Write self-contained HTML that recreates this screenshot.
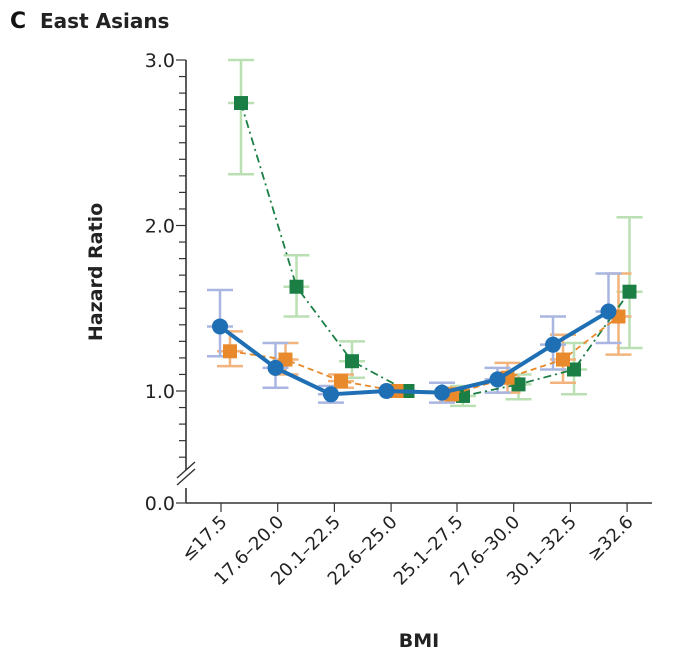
<!DOCTYPE html>
<html><head><meta charset="utf-8">
<style>
body{margin:0;background:#fff;}
svg{display:block;font-family:"DejaVu Sans","Liberation Sans",sans-serif;}
</style></head>
<body>
<svg id="chart" width="700" height="668" viewBox="0 0 700 668">
  <text x="10" y="28" font-size="22" font-weight="bold" fill="#111">C</text>
  <text x="40" y="28" font-size="20" font-weight="bold" fill="#222">East Asians</text>
  <text transform="translate(102,272) rotate(-90)" text-anchor="middle" font-size="19" font-weight="bold" fill="#222">Hazard Ratio</text>
  <text x="419" y="647" text-anchor="middle" font-size="19" font-weight="bold" fill="#222">BMI</text>
  <g id="axes"></g>
  <g id="marks"></g>
</svg>
<script>
const categories = ["≤17.5","17.6–20.0","20.1–22.5","22.6–25.0","25.1–27.5","27.6–30.0","30.1–32.5","≥32.6"];
const yTickLabels = ["0.0","1.0","2.0","3.0"];
const yTickValues = [0,1,2,3];
const blueHR = [1.39,1.14,0.98,1.0,0.99,1.07,1.28,1.48];
const blueLo = [1.21,1.02,0.93,1.0,0.93,0.99,1.13,1.29];
const blueHi = [1.61,1.29,1.03,1.0,1.05,1.14,1.45,1.71];
const orangeHR = [1.24,1.19,1.06,1.0,0.98,1.08,1.19,1.45];
const orangeLo = [1.15,1.10,1.02,1.0,0.94,0.99,1.05,1.22];
const orangeHi = [1.36,1.29,1.10,1.0,1.02,1.17,1.34,1.71];
const greenHR = [2.74,1.63,1.18,1.0,0.97,1.04,1.13,1.60];
const greenLo = [2.31,1.45,1.08,1.0,0.91,0.95,0.98,1.26];
const greenHi = [3.0,1.82,1.30,1.0,1.03,1.10,1.29,2.05];

const NS="http://www.w3.org/2000/svg";
function y(v){ return v<0.55 ? 503-(v/0.55)*30 : 391-(v-1)*165.5; }
function x(i){ return 220+55.5*i; }
function tickX(i){ return i<4 ? 221+56.7*i : 457+56.7*(i-4); }
function mk(tag,attrs,parent){const e=document.createElementNS(NS,tag);for(const k in attrs)e.setAttribute(k,attrs[k]);parent.appendChild(e);return e;}
const axes=document.getElementById('axes'), marks=document.getElementById('marks');
const ax=186, base=503;
let l=mk('line',{x1:ax,y1:60,x2:ax,y2:470,stroke:'#333','stroke-width':1.6},axes);


l=mk('line',{x1:ax,y1:488,x2:ax,y2:base,stroke:'#333','stroke-width':1.6},axes);


for(const dy of [0,7]){
  l=mk('line',{x1:ax-9,y1:484+dy-6,x2:ax+9,y2:468+dy-6,stroke:'#333','stroke-width':1.4},axes);
  
  
}
for(let k=6;k<=30;k++){
  const v=k/10, major=(k%10===0);
  l=mk('line',{x1:ax-(major?10:7),y1:y(v),x2:ax,y2:y(v),stroke:'#333','stroke-width':1.2},axes);
  
  
}
l=mk('line',{x1:ax-10,y1:base,x2:ax,y2:base,stroke:'#333','stroke-width':1.2},axes);


yTickValues.forEach((v,i)=>{
  const t=mk('text',{x:ax-11,y:y(v)+7,'text-anchor':'end','font-size':19,fill:'#222'},axes);
  t.textContent=yTickLabels[i];
  
  
});
l=mk('line',{x1:ax,y1:base,x2:652,y2:base,stroke:'#333','stroke-width':1.6},axes);


categories.forEach((c,i)=>{
  const tx=tickX(i);
  const tk=mk('line',{x1:tx,y1:base,x2:tx,y2:base+9,stroke:'#333','stroke-width':1.2},axes);
  
  
  const t=mk('text',{x:0,y:0,'text-anchor':'end','font-size':18,fill:'#222',transform:`translate(${tx+7},${base+20}) rotate(-45)`},axes);
  t.textContent=c;
  
  
});
const series=[
  {name:'green',hr:greenHR,lo:greenLo,hi:greenHi,off:21,col:'#1b7f45',ci:'#b9dfb3',dash:'8 4 2 4',w:1.8,shape:'sq'},
  {name:'orange',hr:orangeHR,lo:orangeLo,hi:orangeHi,off:10,col:'#e8892b',ci:'#f2b47c',dash:'6 4',w:1.8,shape:'sq'},
  {name:'blue',hr:blueHR,lo:blueLo,hi:blueHi,off:0,col:'#1f6fb5',ci:'#a9b6e2',dash:null,w:4,shape:'circle'}
];
series.forEach(s=>{
  s.hr.forEach((v,i)=>{
    if(s.lo[i]===s.hi[i]) return;
    const cx=x(i)+s.off, g=mk('g',{stroke:s.ci,'stroke-width':2.5,fill:'none'},marks);
    
    
    mk('line',{x1:cx,y1:y(s.lo[i]),x2:cx,y2:y(s.hi[i])},g);
    mk('line',{x1:cx-13,y1:y(s.lo[i]),x2:cx+13,y2:y(s.lo[i])},g);
    mk('line',{x1:cx-13,y1:y(s.hi[i]),x2:cx+13,y2:y(s.hi[i])},g);
    mk('line',{x1:cx-13,y1:y(v),x2:cx+13,y2:y(v)},g);
  });
});
series.forEach(s=>{
  const pts=s.hr.map((v,i)=>(x(i)+s.off)+','+y(v)).join(' ');
  const a={points:pts,fill:'none',stroke:s.col,'stroke-width':s.w,'stroke-linejoin':'round'};
  if(s.dash)a['stroke-dasharray']=s.dash;
  const pl=mk('polyline',a,marks);
  
  
  s.hr.forEach((v,i)=>{
    const cx=x(i)+s.off, cy=y(v);
    let m;
    if(s.shape==='circle') m=mk('circle',{cx:cx,cy:cy,r:8,fill:s.col},marks);
    else m=mk('rect',{x:cx-7,y:cy-7,width:14,height:14,fill:s.col},marks);
    
    
  });
});
</script>
</body></html>
